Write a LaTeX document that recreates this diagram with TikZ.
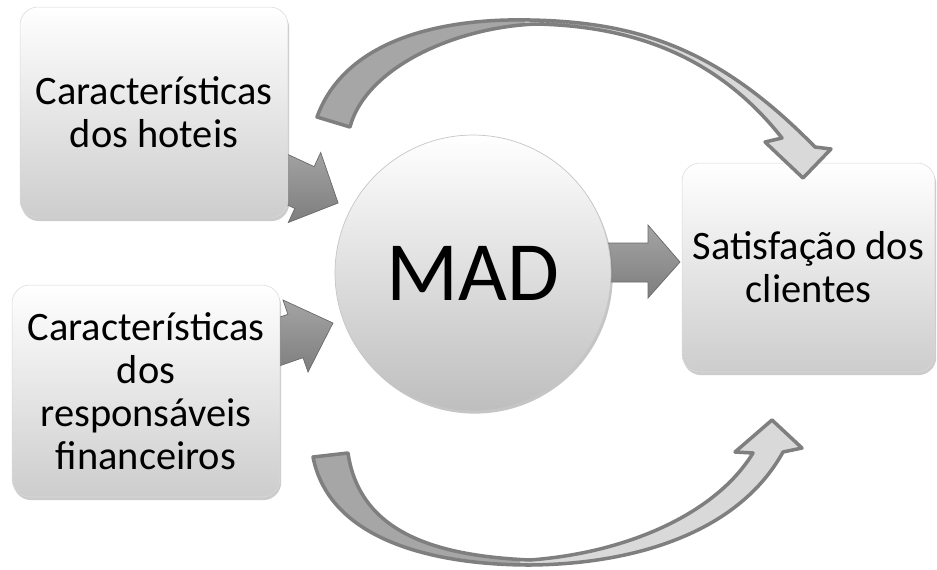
\documentclass[tikz,border=0pt]{standalone}
\usepackage{fontspec}
\setmainfont{Carlito}
\usetikzlibrary{shadows}
\definecolor{boxbot}{HTML}{CDCDCD}
\definecolor{boxmid}{HTML}{EBEBEB}
\definecolor{circbot}{HTML}{BEBEBE}
\definecolor{circmid}{HTML}{EFEFEF}
\definecolor{edgegray}{HTML}{7F7F7F}
\definecolor{darkfill}{HTML}{A6A6A6}
\definecolor{lightfill}{HTML}{D9D9D9}
\definecolor{arrowtop}{HTML}{A4A4A4}
\definecolor{arrowbot}{HTML}{7E7E7E}
\definecolor{arrowedge}{HTML}{6A6A6A}
\tikzset{
  box/.style={rectangle, rounded corners=0.36cm, top color=white, middle color=boxmid, bottom color=boxbot,
    draw=gray!30, line width=0.3pt,
    drop shadow={opacity=0.4, shadow xshift=0.7pt, shadow yshift=-1.8pt},
    align=center, font=\fontsize{23}{24.5}\selectfont, inner sep=0pt},
  hub/.style={circle, top color=white, middle color=circmid, bottom color=circbot, draw=gray!45, line width=0.4pt,
    drop shadow={opacity=0.45, shadow xshift=1pt, shadow yshift=-1.5pt},
    minimum size=5.52cm, inner sep=0pt, font=\fontsize{48}{50}\selectfont},
  blockarrow/.style={top color=arrowtop, bottom color=arrowbot, draw=arrowedge, line width=0.4pt, line join=miter},
  bandedge/.style={draw=edgegray, line width=2pt, line join=round},
}
\newcommand\toparcpath{(317,117) .. controls (345,40) and (440,18) .. (530,20) .. controls (640,22) and (720,50) .. (815,147) -- (831,149) -- (803,178) -- (765,142) -- (782,138) .. controls (722,62) and (642,26) .. (535,24) .. controls (450,28) and (365,70) .. (350,127) -- cycle}
\newcommand\botarcpath{(313,457) .. controls (330,543) and (440,565) .. (530,565) .. controls (640,564) and (740,530) .. (783,452) -- (802,448) -- (772,420) -- (735,452) -- (753,453) .. controls (715,515) and (625,553) .. (530,560) .. controls (440,556) and (360,535) .. (348,453) -- cycle}
\begin{document}
\begin{tikzpicture}[x=0.02cm, y=-0.02cm]
\useasboundingbox (0,0) rectangle (937,569);
\fill[white] (0,0) rectangle (937,569);

% small block arrows (behind boxes and circle)
\draw[blockarrow] (273.3,147.7) -- (314.2,166.6) -- (320.7,152.5) -- (338.1,203.0) -- (288.3,222.5) -- (294.8,208.4) -- (253.9,189.5) -- cycle;
\draw[blockarrow] (245.4,329.0) -- (287.9,314.3) -- (283,300) -- (333,323) -- (308,372) -- (303,357.7) -- (260.5,372.4) -- cycle;
\draw[blockarrow] (595,243) -- (648,243) -- (648,225) -- (680,262) -- (648,298) -- (648,282) -- (595,282) -- cycle;

% boxes and circle
\node[box, minimum width=5.36cm, minimum height=4.22cm] (hoteis) at (154,112.5) {Características\\dos hoteis};
\node[box, minimum width=5.36cm, minimum height=4.24cm] (resp) at (146,391) {Características\\dos\\responsáveis\\financeiros};
\node[box, minimum width=5.06cm, minimum height=4.18cm] (satis) at (808.5,267.5) {Satisfação dos\\clientes};
\node[hub] (mad) at (473,273) {MAD};

% curved arrows
\fill[lightfill] \toparcpath;
\begin{scope}
  \clip (0,0) rectangle (525,200);
  \fill[darkfill] \toparcpath;
\end{scope}
\path[bandedge] \toparcpath;

\fill[lightfill] \botarcpath;
\begin{scope}
  \clip (0,380) rectangle (520,569);
  \fill[darkfill] \botarcpath;
\end{scope}
\path[bandedge] \botarcpath;
\end{tikzpicture}
\end{document}
